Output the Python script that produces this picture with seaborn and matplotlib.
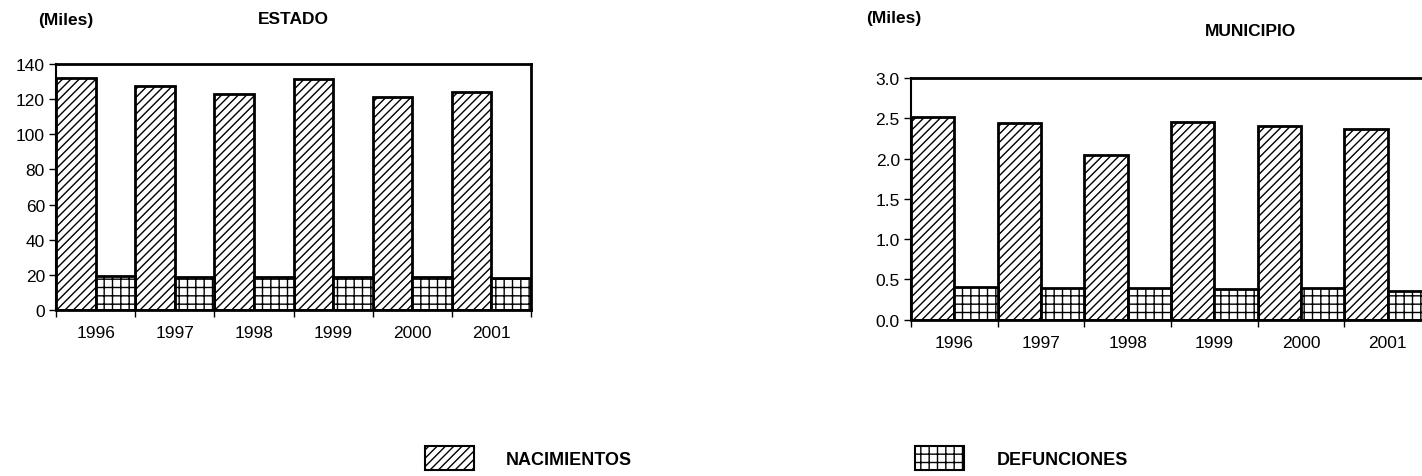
import numpy as np
import pandas as pd
import matplotlib
matplotlib.use('Agg')
import matplotlib.pyplot as plt
import seaborn as sns
from matplotlib.patches import Patch

years = ['1996', '1997', '1998', '1999', '2000', '2001']
series = ['NACIMIENTOS', 'DEFUNCIONES']

# Miles de eventos
estado_nac = [131.9, 127.3, 123.0, 131.5, 121.5, 123.9]
estado_def = [19.4, 18.8, 18.7, 18.7, 18.5, 18.4]
muni_nac = [2.52, 2.44, 2.05, 2.45, 2.41, 2.37]
muni_def = [0.41, 0.39, 0.39, 0.38, 0.39, 0.35]

hatches = ['////', '++']

sns.set_style('white')
plt.rcParams['font.family'] = ['Liberation Sans', 'DejaVu Sans']
plt.rcParams['text.color'] = 'black'
plt.rcParams['xtick.color'] = 'black'
plt.rcParams['ytick.color'] = 'black'
plt.rcParams['hatch.linewidth'] = 1.0
plt.rcParams['hatch.color'] = 'black'

title_font = ['Liberation Sans']


def make_df(nac, defu):
    return pd.DataFrame({
        'Year': years * 2,
        'Serie': [series[0]] * 6 + [series[1]] * 6,
        'Value': nac + defu,
    })


fig = plt.figure(figsize=(14.22, 4.77), dpi=100)
ax1 = fig.add_axes([0.0394, 0.348, 0.334, 0.5157])
ax2 = fig.add_axes([0.6406, 0.3277, 0.3657, 0.5067])


def draw(ax, df, ymax, yticks, fmt):
    sns.barplot(data=df, x='Year', y='Value', hue='Serie', hue_order=series,
                width=1.0, palette=['white', 'white'], edgecolor='black',
                linewidth=2, saturation=1, legend=False, ax=ax)
    for cont, h in zip(ax.containers, hatches):
        for bar in cont:
            bar.set_hatch(h)
    ax.set_xlim(-0.5, 5.5)
    ax.set_ylim(0, ymax)
    ax.set_yticks(yticks)
    ax.set_yticklabels([fmt.format(v) for v in yticks])
    ax.set_xticks(range(6))
    ax.set_xticklabels(years)
    ax.set_xticks(np.arange(-0.5, 6.0, 1.0), minor=True)
    ax.tick_params(axis='x', which='major', length=0, pad=11, labelsize=12.5)
    ax.tick_params(axis='x', which='minor', length=5, width=1, direction='out',
                   bottom=True)
    ax.tick_params(axis='y', length=5, width=1, direction='out',
                   left=True, labelsize=12.5, pad=3)
    ax.set_xlabel('')
    ax.set_ylabel('')
    for s in ax.spines.values():
        s.set_color('black')
        s.set_linewidth(2)
    ax.spines['left'].set_linewidth(1.5)


draw(ax1, make_df(estado_nac, estado_def), 140, list(range(0, 141, 20)), '{:d}')
draw(ax2, make_df(muni_nac, muni_def), 3.0, [0.0, 0.5, 1.0, 1.5, 2.0, 2.5, 3.0], '{:.1f}')

fig.text(38 / 1422, 1 - 20 / 477, '(Miles)', fontsize=12.5, fontweight='bold',
         ha='left', va='center', family=title_font)
fig.text(293 / 1422, 1 - 20 / 477, 'ESTADO', fontsize=12.5, fontweight='bold',
         ha='center', va='center', family=title_font)
fig.text(866 / 1422, 1 - 19 / 477, '(Miles)', fontsize=12.5, fontweight='bold',
         ha='left', va='center', family=title_font)
fig.text(1250 / 1422, 1 - 32 / 477, 'MUNICIPIO', fontsize=12.5, fontweight='bold',
         ha='center', va='center', family=title_font)

for label, h, xpos in zip(series, hatches, [425 / 1422, 915 / 1422]):
    handle = Patch(facecolor='white', edgecolor='black', hatch=h, linewidth=1.5)
    fig.legend(handles=[handle], labels=[label], loc='center left',
               bbox_to_anchor=(xpos, 1 - 459 / 477), frameon=False,
               handlelength=2.7, handleheight=1.75, handletextpad=1.8,
               borderaxespad=0, borderpad=0,
               prop={'family': title_font, 'weight': 'bold', 'size': 13})

fig.savefig('out.png', dpi=100)
